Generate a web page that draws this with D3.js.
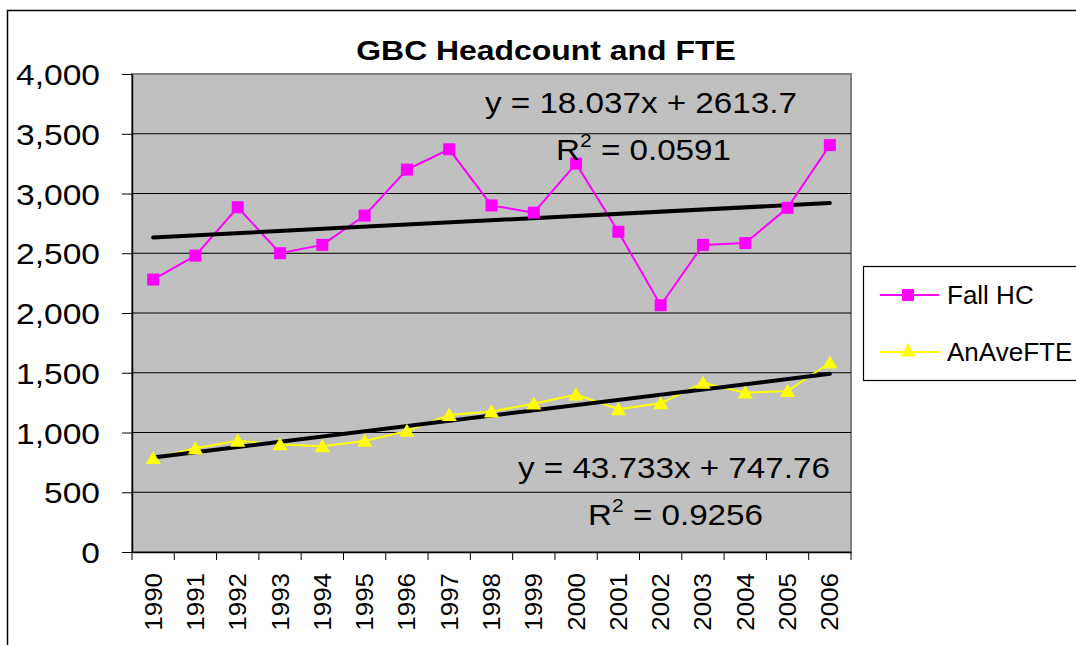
<!DOCTYPE html>
<html lang="en">
<head>
<meta charset="UTF-8">
<title>GBC Headcount and FTE</title>
<style>
    body { margin: 0; background: #fff; }
    svg { display: block; font-family: "Liberation Sans", Arial, sans-serif; }
</style>
</head>
<body>
<svg width="1076" height="645"></svg>
<script src="https://d3js.org/d3.v7.min.js"></script>
<script>

    // data
    var years = ["1990", "1991", "1992", "1993", "1994", "1995", "1996", "1997", "1998",
                 "1999", "2000", "2001", "2002", "2003", "2004", "2005", "2006"];
    var fallHC = [2280, 2480, 2885, 2500, 2570, 2815, 3200, 3370, 2900,
                  2840, 3250, 2680, 2065, 2570, 2585, 2880, 3405];
    var anAveFTE = [785, 868, 930, 900, 884, 929, 1013, 1146, 1175,
                    1241, 1318, 1194, 1244, 1415, 1333, 1347, 1584];
    var yTicks = [0, 500, 1000, 1500, 2000, 2500, 3000, 3500, 4000];

    // trendline fits as printed on the chart
    var hcFit = { slope: 18.037, intercept: 2613.7, r2: "0.0591" };
    var fteFit = { slope: 43.733, intercept: 747.76, r2: "0.9256" };

    var svg = d3.select("svg");
    var plot = { left: 132, top: 74, right: 851, bottom: 552 };

    var x = d3.scaleBand().domain(years).range([plot.left, plot.right]).padding(0);
    var y = d3.scaleLinear().domain([0, 4000]).range([plot.bottom, plot.top]);
    var cx = function (d, i) { return x(years[i]) + x.bandwidth() / 2; };

    // outer chart border
    svg.append("rect")
        .attr("x", 7.5).attr("y", 10.5)
        .attr("width", 1100).attr("height", 700)
        .attr("fill", "#fff").attr("stroke", "#000").attr("stroke-width", 1.5);

    // text in the picture is a bit wide, so stretch it
    function stretched(px, py, sx) {
        return svg.append("g").attr("transform", "translate(" + px + "," + py + ") scale(" + sx + ",1)");
    }

    stretched(546, 60, 1.14).append("text")
        .attr("text-anchor", "middle")
        .style("font-size", "28px")
        .style("font-weight", "bold")
        .text("GBC Headcount and FTE");

    // plot area
    svg.append("rect")
        .attr("x", plot.left).attr("y", plot.top)
        .attr("width", plot.right - plot.left).attr("height", plot.bottom - plot.top)
        .attr("fill", "#c0c0c0").attr("stroke", "#808080").attr("stroke-width", 2);

    // gridlines
    svg.append("g").selectAll("line")
        .data(yTicks.filter(function (d) { return d > 0 && d < 4000; }))
        .enter().append("line")
        .attr("x1", plot.left).attr("x2", plot.right)
        .attr("y1", function (d) { return y(d); })
        .attr("y2", function (d) { return y(d); })
        .attr("stroke", "#000").attr("stroke-width", 1);

    // y axis
    var yAxis = svg.append("g")
        .attr("transform", "translate(" + plot.left + ",0)")
        .call(d3.axisLeft(y).tickValues(yTicks).tickFormat(d3.format(",")).tickSize(10).tickSizeOuter(0));
    yAxis.select(".domain").attr("stroke", "#000").attr("stroke-width", 1.5);
    yAxis.selectAll(".tick line").attr("stroke", "#000").attr("stroke-width", 1);
    yAxis.selectAll(".tick text")
        .attr("x", -32 / 1.12)
        .attr("dy", "0.35em")
        .attr("transform", "scale(1.12,1)")
        .attr("fill", "#000")
        .style("font-size", "30px")
        .style("font-family", "Liberation Sans, Arial, sans-serif");

    // x axis: labels at band centres, ticks at band edges
    var xAxis = svg.append("g")
        .attr("transform", "translate(0," + plot.bottom + ")")
        .call(d3.axisBottom(x).tickSize(0).tickSizeOuter(0));
    xAxis.select(".domain").attr("stroke", "#000").attr("stroke-width", 1.5);
    xAxis.selectAll(".tick text")
        .attr("x", 0).attr("y", 0).attr("dy", 0)
        .attr("text-anchor", "end")
        .attr("transform", "translate(8.5,21) rotate(-90) scale(1.08,1)")
        .attr("fill", "#000")
        .style("font-size", "24px")
        .style("font-family", "Liberation Sans, Arial, sans-serif");

    svg.append("g").selectAll("line")
        .data(years.concat(["end"]))
        .enter().append("line")
        .attr("x1", function (d) { return d === "end" ? plot.right : x(d); })
        .attr("x2", function (d) { return d === "end" ? plot.right : x(d); })
        .attr("y1", plot.bottom).attr("y2", plot.bottom + 8)
        .attr("stroke", "#000").attr("stroke-width", 1);

    // series lines
    var line = d3.line()
        .x(function (d, i) { return cx(d, i); })
        .y(function (d) { return y(d); });

    svg.append("path").datum(fallHC)
        .attr("d", line).attr("fill", "none")
        .attr("stroke", "#ff00ff").attr("stroke-width", 2);

    svg.append("path").datum(anAveFTE)
        .attr("d", line).attr("fill", "none")
        .attr("stroke", "#ffff00").attr("stroke-width", 2);

    // trendlines from first to last category (x = 1..17)
    function trend(fit) {
        return [1, years.length].map(function (n) {
            return [cx(null, n - 1), y(fit.slope * n + fit.intercept)];
        });
    }
    [hcFit, fteFit].forEach(function (fit) {
        svg.append("path")
            .attr("d", d3.line()(trend(fit)))
            .attr("stroke", "#000").attr("stroke-width", 4)
            .attr("stroke-linecap", "round");
    });

    // markers
    svg.append("g").selectAll("rect")
        .data(fallHC).enter().append("rect")
        .attr("x", function (d, i) { return cx(d, i) - 6; })
        .attr("y", function (d) { return y(d) - 6; })
        .attr("width", 12).attr("height", 12)
        .attr("fill", "#ff00ff");

    var tri = d3.symbol().type(d3.symbolTriangle).size(100);
    svg.append("g").selectAll("path")
        .data(anAveFTE).enter().append("path")
        .attr("d", tri)
        .attr("transform", function (d, i) { return "translate(" + cx(d, i) + "," + (y(d) + 1.5) + ")"; })
        .attr("fill", "#ffff00");

    // trendline equations
    function equation(fit, ex, ey, rx, ry) {
        stretched(ex, ey, 1.107).append("text")
            .style("font-size", "30px")
            .text("y = " + fit.slope + "x + " + fit.intercept);
        var t = stretched(rx, ry, 1.107).append("text").style("font-size", "30px");
        t.append("tspan").text("R");
        t.append("tspan").attr("dy", -13).style("font-size", "19px").text("2");
        t.append("tspan").attr("dy", 13).text(" = " + fit.r2);
    }
    equation(hcFit, 485, 113, 556, 160);
    equation(fteFit, 518, 478, 588, 525);

    // legend
    var legend = svg.append("g");
    legend.append("rect")
        .attr("x", 863.5).attr("y", 266.5)
        .attr("width", 300).attr("height", 114)
        .attr("fill", "#fff").attr("stroke", "#000").attr("stroke-width", 1.2);

    var items = [
        { name: "Fall HC", color: "#ff00ff", shape: "square", y: 295 },
        { name: "AnAveFTE", color: "#ffff00", shape: "triangle", y: 352 }
    ];
    var item = legend.selectAll(".item").data(items).enter().append("g")
        .attr("transform", function (d) { return "translate(0," + d.y + ")"; });
    item.append("line")
        .attr("x1", 880).attr("x2", 939)
        .attr("stroke", function (d) { return d.color; }).attr("stroke-width", 2);
    item.append("path")
        .attr("d", function (d) {
            return d.shape === "square"
                ? d3.symbol().type(d3.symbolSquare).size(144)()
                : tri();
        })
        .attr("transform", "translate(908,0)")
        .attr("fill", function (d) { return d.color; });
    item.append("text")
        .attr("x", 947).attr("y", 9)
        .style("font-size", "26px")
        .text(function (d) { return d.name; });

</script>
</body>
</html>
